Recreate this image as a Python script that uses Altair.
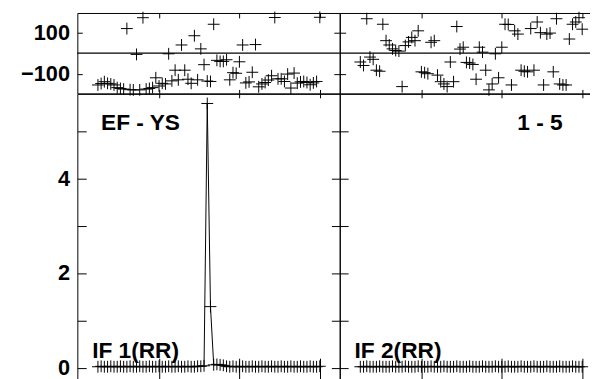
import altair as alt
import pandas as pd

# ---------------- data ----------------
channels = list(range(1, 71))

phase_if1 = [-155, -148, -139, -147, -150, -155, -168, -172, -175, 120,
             -178, -179, -6, -179, 173, -175, -172, -168, -120, -160,
             -147, -150, -3, -135, -83, -130, 40, -83, -127, -147,
             85, -130, 21, -56, -136, -138, 141, -35, -40, -40,
             -32, -130, -95, -98, -42, 40, -145, -140, -93, 42,
             -164, -150, -143, -131, -110, 174, -125, -125, -138, -102,
             -170, -97, -146, -140, -138, -143, -154, -145, -138, 175]

phase_if2 = [-43, -60, 168, -19, -30, -83, -88, 141, 61, 40,
             21, 13, 10, -163, 37, 55, 77, 61, 109, -91,
             -95, -100, 53, 61, -107, -139, -150, -163, -43, -139,
             130, 20, 29, -45, -48, -55, -127, 29, 5, -83,
             -179, -150, -3, -120, 29, 141, 140, -155, 109, 93,
             -83, -88, -91, 120, -83, 152, 100, -155, 93, 98,
             -91, 168, -150, -155, -155, 69, 141, 152, 173, 117]

amp_if1 = [0.02, 0.03, 0.02, 0.02, 0.03, 0.02, 0.02, 0.03, 0.02, 0.02,
           0.03, 0.02, 0.02, 0.03, 0.02, 0.02, 0.03, 0.02, 0.02, 0.03,
           0.02, 0.02, 0.03, 0.02, 0.02, 0.03, 0.02, 0.02, 0.03, 0.02,
           0.02, 0.03, 0.03, 0.04, 5.58, 1.29, 0.06, 0.07, 0.06, 0.05,
           0.03, 0.02, 0.03, 0.02, 0.02, 0.03, 0.02, 0.02, 0.03, 0.02,
           0.02, 0.03, 0.02, 0.02, 0.03, 0.02, 0.02, 0.03, 0.02, 0.02,
           0.03, 0.02, 0.02, 0.03, 0.02, 0.02, 0.03, 0.02, 0.02, 0.03]

amp_if2 = [0.02, 0.02, 0.03, 0.02, 0.02, 0.02, 0.03, 0.02, 0.02, 0.02,
           0.03, 0.02, 0.02, 0.02, 0.03, 0.02, 0.02, 0.02, 0.03, 0.02,
           0.02, 0.02, 0.03, 0.02, 0.02, 0.02, 0.03, 0.02, 0.02, 0.02,
           0.03, 0.02, 0.02, 0.02, 0.03, 0.02, 0.02, 0.02, 0.03, 0.02,
           0.02, 0.02, 0.03, 0.02, 0.02, 0.02, 0.03, 0.02, 0.02, 0.02,
           0.03, 0.02, 0.02, 0.02, 0.03, 0.02, 0.02, 0.02, 0.03, 0.02,
           0.02, 0.02, 0.03, 0.02, 0.02, 0.02, 0.03, 0.02, 0.02, 0.02]

phase_ticks = [-100, 100]
amp_ticks = [0, 1, 2, 3, 4, 5]
chan_ticks = [20, 45, 70]
zero_line = [0]
baseline_label = ["EF - YS"]
source_label = ["1 - 5"]
if1_label = ["IF 1(RR)"]
if2_label = ["IF 2(RR)"]

# ---------------- layout constants ----------------
W = 266
H_PH = 81.5
H_AMP = 292
FONT = "Liberation Sans"
CROSS = "M-1,0H1M0,-1V1"
PAD_L, PAD_T = 70.3, 2.5
SVG_W, SVG_H = 590, 371

xs = alt.Scale(domain=[-5.4, 76.2], nice=False, zero=False)
ys_ph = alt.Scale(domain=[-196, 196], nice=False, zero=False)
ys_amp = alt.Scale(domain=[-0.3, 5.783], nice=False, zero=False)

df1 = pd.DataFrame({"ch": channels, "ph": phase_if1, "amp": amp_if1})
df2 = pd.DataFrame({"ch": channels, "ph": phase_if2, "amp": amp_if2})


def ax(orient, values, size, labels=False, label_expr=None):
    kw = dict(orient=orient, values=values, tickSize=size, offset=-size,
              domain=False, grid=False, title=None, labels=labels,
              tickColor="black", tickWidth=1)
    if labels:
        kw.update(labelFont=FONT, labelFontWeight="bold", labelFontSize=22,
                  labelColor="black", labelPadding=8)
    if label_expr:
        kw["labelExpr"] = label_expr
    return alt.Axis(**kw)


def cross_layer(df, field, yscale, xaxis, yaxis):
    return alt.Chart(df).mark_point(
        shape=CROSS, size=144, filled=False, stroke="black", strokeWidth=1, opacity=1
    ).encode(
        x=alt.X("ch:Q", scale=xs, axis=xaxis),
        y=alt.Y(f"{field}:Q", scale=yscale, axis=yaxis),
    )


def carrier(df, field, yscale, xaxis, yaxis):
    return alt.Chart(df).mark_point(opacity=0).encode(
        x=alt.X("ch:Q", scale=xs, axis=xaxis),
        y=alt.Y(f"{field}:Q", scale=yscale, axis=yaxis),
    )


def label(text_list, x, y, align):
    return alt.Chart(pd.DataFrame({"t": text_list})).mark_text(
        font=FONT, fontWeight="bold", fontSize=23, color="black",
        align=align, baseline="alphabetic"
    ).encode(text="t:N", x=alt.value(x), y=alt.value(y))


zero_rule = alt.Chart(pd.DataFrame({"p": zero_line})).mark_rule(
    color="black", strokeWidth=1.3
).encode(y=alt.Y("p:Q", scale=ys_ph, axis=None))

# phase panels
ph_left = alt.layer(
    cross_layer(df1, "ph", ys_ph, ax("bottom", chan_ticks, 4),
                ax("left", phase_ticks, 5, labels=True)),
    carrier(df1, "ph", ys_ph, ax("top", chan_ticks, 5), ax("right", phase_ticks, 6)),
    zero_rule,
).resolve_axis(x="independent", y="independent").properties(width=W, height=H_PH)

ph_right = alt.layer(
    cross_layer(df2, "ph", ys_ph, ax("bottom", chan_ticks, 4), ax("left", phase_ticks, 6)),
    carrier(df2, "ph", ys_ph, ax("top", chan_ticks, 5), None),
    zero_rule,
).resolve_axis(x="independent", y="independent").properties(width=W, height=H_PH)

# amplitude panels
amp_left = alt.layer(
    alt.Chart(df1).mark_line(color="black", strokeWidth=1).encode(
        x=alt.X("ch:Q", scale=xs, axis=ax("bottom", chan_ticks, 24)),
        y=alt.Y("amp:Q", scale=ys_amp,
                axis=ax("left", amp_ticks, 9, labels=True,
                        label_expr="datum.value % 2 == 0 ? datum.label : ''")),
    ),
    cross_layer(df1, "amp", ys_amp, ax("top", chan_ticks, 4), ax("right", amp_ticks, 8.5)),
    label(baseline_label, 24, 37, "left"),
    label(if1_label, 15, 267.5, "left"),
).resolve_axis(x="independent", y="independent").properties(width=W, height=H_AMP)

amp_right = alt.layer(
    alt.Chart(df2).mark_line(color="black", strokeWidth=1).encode(
        x=alt.X("ch:Q", scale=xs, axis=ax("bottom", chan_ticks, 24)),
        y=alt.Y("amp:Q", scale=ys_amp, axis=ax("left", amp_ticks, 8.5)),
    ),
    cross_layer(df2, "amp", ys_amp, ax("top", chan_ticks, 4), None),
    label(source_label, 226, 37, "right"),
    label(if2_label, 15, 267.5, "left"),
).resolve_axis(x="independent", y="independent").properties(width=W, height=H_AMP)

chart = alt.concat(
    ph_left, ph_right, amp_left, amp_right,
    columns=2, spacing=0, bounds="flush"
).properties(
    autosize=alt.AutoSizeParams(type="none"),
    padding={"left": PAD_L, "top": PAD_T,
             "right": SVG_W - PAD_L, "bottom": SVG_H - PAD_T},
    background="white",
).configure_view(
    stroke="black", strokeWidth=1
)

chart.save("out.html", embed_options={"renderer": "svg", "actions": False})
